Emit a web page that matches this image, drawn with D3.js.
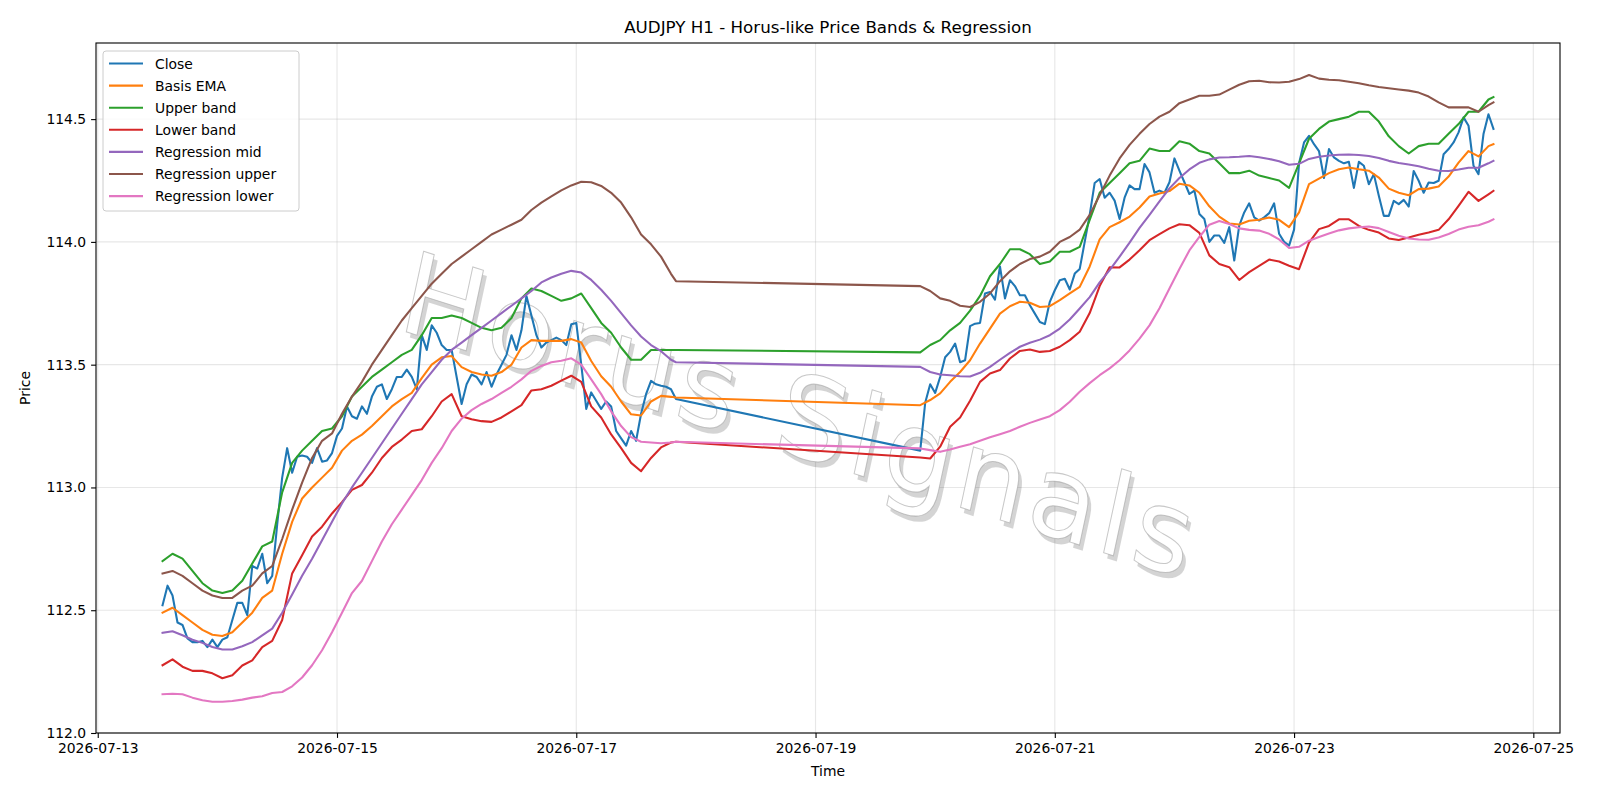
<!DOCTYPE html>
<html>
<head>
<meta charset="utf-8">
<script src="https://cdn.jsdelivr.net/npm/d3@7"></script>
<style>
  body { margin: 0; background: #fff; }
  svg text { font-family: "DejaVu Sans", sans-serif; }
</style>
</head>
<body>
<div id="chart"></div>
<script>
// hourly bars, market closed over the weekend (07-17 20:00 -> 07-19 21:00)
const startA = "2026-07-13T13:00:00Z", lastHourA = 103;
const startB = "2026-07-19T21:00:00Z", lastHourB = 115;

const xTickLabels = ["2026-07-13", "2026-07-15", "2026-07-17", "2026-07-19", "2026-07-21", "2026-07-23", "2026-07-25"];
const yTicks = [112.0, 112.5, 113.0, 113.5, 114.0, 114.5];

const seriesNames = ["Close", "Basis EMA", "Upper band", "Lower band", "Regression mid", "Regression upper", "Regression lower"];
const seriesColors = ["#1f77b4", "#ff7f0e", "#2ca02c", "#d62728", "#9467bd", "#8c564b", "#e377c2"];

// Close, every hour
const closeA = [
  112.52, 112.60, 112.56, 112.45, 112.44, 112.385, 112.37, 112.37, 112.375, 112.35,
  112.38, 112.35, 112.38, 112.39, 112.46, 112.53, 112.53, 112.48, 112.68, 112.67,
  112.73, 112.61, 112.64, 112.85, 113.04, 113.16, 113.06, 113.125, 113.13, 113.125,
  113.10, 113.16, 113.105, 113.11, 113.14, 113.21, 113.24, 113.33, 113.29, 113.28,
  113.33, 113.30, 113.37, 113.41, 113.42, 113.36, 113.40, 113.45, 113.45, 113.48,
  113.45, 113.40, 113.62, 113.56, 113.66, 113.63, 113.58, 113.56, 113.56, 113.45,
  113.34, 113.42, 113.46, 113.45, 113.42, 113.47, 113.41, 113.46, 113.50, 113.54,
  113.62, 113.56, 113.64, 113.78, 113.70, 113.62, 113.57, 113.59, 113.60, 113.61,
  113.60, 113.58, 113.665, 113.67, 113.50, 113.32, 113.387, 113.353, 113.32, 113.35,
  113.33, 113.23, 113.20, 113.17, 113.23, 113.19, 113.30, 113.38, 113.434, 113.42,
  113.414, 113.41, 113.40, 113.36
];
const closeB = [
  113.15, 113.345, 113.42, 113.385, 113.45, 113.53, 113.552, 113.586, 113.51, 113.518,
  113.657, 113.667, 113.67, 113.79, 113.796, 113.765, 113.90, 113.77, 113.844, 113.82,
  113.783, 113.783, 113.742, 113.708, 113.674, 113.665, 113.756, 113.803, 113.844, 113.85,
  113.806, 113.871, 113.89, 114.0, 114.11, 114.24, 114.256, 114.18, 114.20, 114.168,
  114.093, 114.18, 114.23, 114.215, 114.215, 114.317, 114.283, 114.20, 114.209, 114.20,
  114.243, 114.34, 114.29, 114.243, 114.195, 114.209, 114.114, 114.093, 114.0, 114.026,
  114.026, 113.996, 114.06, 113.924, 114.066, 114.12, 114.157, 114.10, 114.087, 114.10,
  114.117, 114.157, 114.033, 114.0, 113.985, 114.05, 114.32, 114.405, 114.432, 114.398,
  114.37, 114.26, 114.378, 114.344, 114.33, 114.32, 114.326, 114.22, 114.326, 114.31,
  114.235, 114.276, 114.188, 114.106, 114.106, 114.167, 114.154, 114.171, 114.144, 114.289,
  114.249, 114.20, 114.242, 114.24, 114.249, 114.357, 114.378, 114.405, 114.446, 114.507,
  114.473, 114.31, 114.276, 114.439, 114.52, 114.46
];

// the smoother lines, read every 2 hours (plus the last bar of each block)
const emaA = [
  112.49, 112.51, 112.48, 112.45, 112.42, 112.40, 112.395, 112.41, 112.45, 112.49,
  112.55, 112.58, 112.73, 112.86, 112.955, 113.00, 113.04, 113.08, 113.15, 113.19,
  113.215, 113.25, 113.29, 113.33, 113.36, 113.385, 113.445, 113.50, 113.53, 113.535,
  113.49, 113.47, 113.46, 113.455, 113.47, 113.50, 113.57, 113.60, 113.597, 113.597,
  113.597, 113.604, 113.59, 113.515, 113.453, 113.41, 113.35, 113.298, 113.293, 113.35,
  113.373, 113.369, 113.366
];
const emaB = [
  113.335, 113.356, 113.383, 113.43, 113.47, 113.518, 113.586, 113.647, 113.708, 113.738,
  113.756, 113.752, 113.735, 113.738, 113.763, 113.79, 113.817, 113.90, 114.01, 114.06,
  114.08, 114.103, 114.14, 114.185, 114.197, 114.207, 114.237, 114.23, 114.20, 114.145,
  114.103, 114.075, 114.071, 114.086, 114.09, 114.099, 114.09, 114.06, 114.12, 114.235,
  114.258, 114.28, 114.296, 114.303, 114.296, 114.29, 114.262, 114.217, 114.20, 114.19,
  114.215, 114.217, 114.226, 114.266, 114.323, 114.37, 114.348, 114.39, 114.398
];
const upperA = [
  112.70, 112.73, 112.71, 112.66, 112.61, 112.58, 112.57, 112.58, 112.62, 112.69,
  112.76, 112.78, 112.98, 113.10, 113.15, 113.19, 113.23, 113.24, 113.29, 113.37,
  113.41, 113.45, 113.48, 113.51, 113.54, 113.56, 113.62, 113.69, 113.69, 113.70,
  113.69, 113.67, 113.65, 113.64, 113.65, 113.69, 113.77, 113.81, 113.80, 113.78,
  113.76, 113.77, 113.79, 113.73, 113.67, 113.63, 113.57, 113.52, 113.52, 113.56,
  113.56, 113.56, 113.56
];
const upperB = [
  113.55, 113.58, 113.60, 113.64, 113.67, 113.72, 113.78, 113.86, 113.91, 113.97,
  113.97, 113.95, 113.91, 113.92, 113.96, 113.96, 113.98, 114.09, 114.20, 114.24,
  114.28, 114.32, 114.33, 114.38, 114.37, 114.37, 114.41, 114.40, 114.37, 114.36,
  114.32, 114.28, 114.28, 114.29, 114.27, 114.26, 114.25, 114.22, 114.32, 114.42,
  114.46, 114.49, 114.50, 114.51, 114.53, 114.53, 114.49, 114.43, 114.39, 114.36,
  114.39, 114.40, 114.40, 114.44, 114.48, 114.53, 114.53, 114.58, 114.59
];
const lowerA = [
  112.276, 112.30, 112.27, 112.253, 112.253, 112.243, 112.223, 112.235, 112.275, 112.296,
  112.35, 112.375, 112.46, 112.65, 112.724, 112.80, 112.84, 112.894, 112.94, 112.99,
  113.01, 113.06, 113.12, 113.165, 113.195, 113.23, 113.237, 113.29, 113.35, 113.38,
  113.29, 113.278, 113.27, 113.267, 113.285, 113.31, 113.335, 113.395, 113.40, 113.414,
  113.435, 113.455, 113.43, 113.33, 113.285, 113.216, 113.16, 113.10, 113.066, 113.12,
  113.163, 113.183, 113.186
];
const lowerB = [
  113.122, 113.118, 113.166, 113.247, 113.285, 113.353, 113.43, 113.464, 113.478, 113.525,
  113.556, 113.562, 113.552, 113.556, 113.573, 113.60, 113.634, 113.71, 113.82, 113.897,
  113.896, 113.928, 113.966, 114.007, 114.032, 114.055, 114.072, 114.068, 114.037, 113.945,
  113.91, 113.897, 113.845, 113.877, 113.902, 113.928, 113.92, 113.903, 113.889, 113.997,
  114.052, 114.065, 114.092, 114.092, 114.065, 114.049, 114.038, 114.014, 114.008, 114.018,
  114.029, 114.038, 114.049, 114.092, 114.147, 114.204, 114.167, 114.194, 114.208
];
const regMidA = [
  112.408, 112.414, 112.398, 112.38, 112.367, 112.35, 112.34, 112.34, 112.353, 112.37,
  112.398, 112.425, 112.49, 112.564, 112.64, 112.71, 112.785, 112.86, 112.935, 113.0,
  113.06, 113.12, 113.18, 113.24, 113.30, 113.36, 113.42, 113.47, 113.52, 113.56,
  113.59, 113.62, 113.65, 113.68, 113.71, 113.74, 113.77, 113.80, 113.835, 113.855,
  113.87, 113.882, 113.875, 113.845, 113.805, 113.76, 113.71, 113.66, 113.615, 113.58,
  113.555, 113.52, 113.51
];
const regMidB = [
  113.491, 113.47, 113.46, 113.457, 113.453, 113.452, 113.467, 113.491, 113.52, 113.548,
  113.573, 113.589, 113.602, 113.62, 113.647, 113.684, 113.729, 113.775, 113.835, 113.885,
  113.94, 113.997, 114.057, 114.11, 114.165, 114.218, 114.26, 114.295, 114.322, 114.336,
  114.344, 114.345, 114.347, 114.35, 114.345, 114.338, 114.328, 114.314, 114.318, 114.338,
  114.347, 114.352, 114.355, 114.356, 114.354, 114.35, 114.342, 114.33, 114.321, 114.315,
  114.308, 114.298, 114.29, 114.289, 114.295, 114.302, 114.302, 114.32, 114.33
];
const regUpperA = [
  112.65, 112.66, 112.64, 112.61, 112.58, 112.56, 112.55, 112.55, 112.58, 112.60,
  112.65, 112.68, 112.79, 112.91, 113.02, 113.12, 113.19, 113.22, 113.30, 113.37,
  113.43, 113.50, 113.56, 113.62, 113.68, 113.73, 113.78, 113.83, 113.87, 113.91,
  113.94, 113.97, 114.00, 114.03, 114.05, 114.07, 114.09, 114.13, 114.16, 114.185,
  114.21, 114.23, 114.245, 114.243, 114.228, 114.20, 114.16, 114.10, 114.03, 113.99,
  113.94, 113.87, 113.84
];
const regUpperB = [
  113.82, 113.80, 113.77, 113.76, 113.74, 113.735, 113.756, 113.79, 113.84, 113.88,
  113.91, 113.93, 113.94, 113.96, 114.00, 114.02, 114.05, 114.11, 114.19, 114.27,
  114.34, 114.395, 114.44, 114.48, 114.51, 114.53, 114.565, 114.58, 114.595, 114.595,
  114.60, 114.62, 114.64, 114.654, 114.656, 114.65, 114.649, 114.652, 114.663, 114.68,
  114.665, 114.66, 114.658, 114.652, 114.646, 114.638, 114.631, 114.626, 114.621, 114.616,
  114.608, 114.592, 114.568, 114.548, 114.548, 114.548, 114.53, 114.557, 114.568
];
const regLowerA = [
  112.158, 112.16, 112.158, 112.144, 112.133, 112.127, 112.127, 112.13, 112.136, 112.144,
  112.15, 112.163, 112.167, 112.19, 112.226, 112.276, 112.337, 112.41, 112.49, 112.57,
  112.62, 112.70, 112.78, 112.85, 112.91, 112.97, 113.03, 113.10, 113.16, 113.23,
  113.28, 113.315, 113.34, 113.36, 113.385, 113.41, 113.44, 113.475, 113.495, 113.51,
  113.516, 113.526, 113.50, 113.44, 113.38, 113.31, 113.25, 113.205, 113.186, 113.183,
  113.18, 113.183, 113.186
];
const regLowerB = [
  113.159, 113.152, 113.145, 113.155, 113.166, 113.176, 113.19, 113.204, 113.217, 113.23,
  113.247, 113.263, 113.277, 113.29, 113.315, 113.349, 113.39, 113.425, 113.457, 113.485,
  113.518, 113.558, 113.606, 113.66, 113.73, 113.81, 113.89, 113.965, 114.02, 114.07,
  114.085, 114.073, 114.055, 114.049, 114.046, 114.033, 114.01, 113.975, 113.98, 114.005,
  114.02, 114.034, 114.047, 114.055, 114.06, 114.063, 114.056, 114.04, 114.025, 114.014,
  114.01, 114.009, 114.018, 114.032, 114.05, 114.062, 114.068, 114.082, 114.092
];

const HOUR = 3600 * 1000;

function hourlyTimes(start, lastHour) {
  const t0 = new Date(start).getTime();
  return d3.range(lastHour + 1).map((h) => new Date(t0 + h * HOUR));
}

function twoHourTimes(start, lastHour) {
  const t0 = new Date(start).getTime();
  const hs = d3.range(0, lastHour, 2);
  hs.push(lastHour);
  return hs.map((h) => new Date(t0 + h * HOUR));
}

function toPoints(times, values) {
  return values.map((v, i) => ({ t: times[i], v: v }));
}

const hourA = hourlyTimes(startA, lastHourA), hourB = hourlyTimes(startB, lastHourB);
const stepA = twoHourTimes(startA, lastHourA), stepB = twoHourTimes(startB, lastHourB);

const series = [
  toPoints(hourA, closeA).concat(toPoints(hourB, closeB)),
  toPoints(stepA, emaA).concat(toPoints(stepB, emaB)),
  toPoints(stepA, upperA).concat(toPoints(stepB, upperB)),
  toPoints(stepA, lowerA).concat(toPoints(stepB, lowerB)),
  toPoints(stepA, regMidA).concat(toPoints(stepB, regMidB)),
  toPoints(stepA, regUpperA).concat(toPoints(stepB, regUpperB)),
  toPoints(stepA, regLowerA).concat(toPoints(stepB, regLowerB)),
];

const W = 1600, H = 800;
const margin = { top: 43, right: 40, bottom: 67, left: 96 };
const width = W - margin.left - margin.right;
const height = H - margin.top - margin.bottom;

const svg = d3.select("#chart")
  .append("svg")
  .attr("width", W)
  .attr("height", H);

svg.append("rect").attr("width", W).attr("height", H).attr("fill", "#fff");

const g = svg.append("g").attr("transform", `translate(${margin.left},${margin.top})`);

// x range padded by 5% like matplotlib autoscaling
const tExtent = d3.extent(series[0], (d) => d.t);
const pad = (tExtent[1] - tExtent[0]) * 0.05;
const x = d3.scaleUtc()
  .domain([new Date(tExtent[0].getTime() - pad), new Date(tExtent[1].getTime() + pad)])
  .range([0, width]);

const y = d3.scaleLinear().domain([112.0, 114.81]).range([height, 0]);

const xTicks = xTickLabels.map((s) => new Date(s + "T00:00:00Z"));

// grid
g.append("g")
  .selectAll("line")
  .data(xTicks)
  .enter()
  .append("line")
  .attr("x1", (d) => x(d)).attr("x2", (d) => x(d))
  .attr("y1", 0).attr("y2", height)
  .attr("stroke", "#b0b0b0").attr("stroke-opacity", 0.3).attr("stroke-width", 1.1);

g.append("g")
  .selectAll("line")
  .data(yTicks)
  .enter()
  .append("line")
  .attr("x1", 0).attr("x2", width)
  .attr("y1", (d) => y(d)).attr("y2", (d) => y(d))
  .attr("stroke", "#b0b0b0").attr("stroke-opacity", 0.3).attr("stroke-width", 1.1);

// watermark, skewed and shadowed
const wm = g.append("g")
  .attr("transform", `translate(${792 - margin.left},${454 - margin.top}) matrix(0.953,0.302,-0.21,0.978,0,0)`);

wm.append("text")
  .attr("x", 4.5).attr("y", 4.5)
  .attr("text-anchor", "middle")
  .style("font-size", "113px")
  .style("letter-spacing", "4.5px")
  .attr("fill", "#000").attr("fill-opacity", 0.17)
  .text("Horus Signals");

wm.append("text")
  .attr("text-anchor", "middle")
  .style("font-size", "113px")
  .style("letter-spacing", "4.5px")
  .attr("fill", "#fff")
  .attr("stroke", "#9a9a9a").attr("stroke-opacity", 0.55).attr("stroke-width", 1)
  .text("Horus Signals");

// lines
const line = d3.line()
  .x((d) => x(d.t))
  .y((d) => y(d.v));

series.forEach((data, i) => {
  g.append("path")
    .datum(data)
    .attr("fill", "none")
    .attr("stroke", seriesColors[i])
    .attr("stroke-width", 2.08)
    .attr("stroke-linejoin", "round")
    .attr("stroke-linecap", "square")
    .attr("d", line);
});

// axes
const xAxis = d3.axisBottom(x)
  .tickValues(xTicks)
  .tickFormat(d3.utcFormat("%Y-%m-%d"))
  .tickSize(4.9).tickPadding(4.9);

const yAxis = d3.axisLeft(y)
  .tickValues(yTicks)
  .tickFormat(d3.format(".1f"))
  .tickSize(4.9).tickPadding(4.9);

const gx = g.append("g").attr("transform", `translate(0,${height})`).call(xAxis);
const gy = g.append("g").call(yAxis);

[gx, gy].forEach((a) => {
  a.select(".domain").remove();
  a.selectAll(".tick line").attr("stroke", "#000").attr("stroke-width", 1.1);
  a.selectAll(".tick text")
    .attr("fill", "#000")
    .style("font-family", "DejaVu Sans, sans-serif")
    .style("font-size", "13.9px");
});

g.append("rect")
  .attr("width", width).attr("height", height)
  .attr("fill", "none").attr("stroke", "#000").attr("stroke-width", 1.1);

// labels
svg.append("text")
  .attr("x", margin.left + width / 2).attr("y", 32.5)
  .attr("text-anchor", "middle")
  .style("font-size", "16.7px")
  .text("AUDJPY H1 - Horus-like Price Bands & Regression");

svg.append("text")
  .attr("x", margin.left + width / 2).attr("y", 776)
  .attr("text-anchor", "middle")
  .style("font-size", "13.9px")
  .text("Time");

svg.append("text")
  .attr("transform", `translate(30,${margin.top + height / 2}) rotate(-90)`)
  .attr("text-anchor", "middle")
  .style("font-size", "13.9px")
  .text("Price");

// legend
const legend = svg.append("g").attr("transform", "translate(103,51)");

legend.append("rect")
  .attr("width", 196).attr("height", 160)
  .attr("rx", 3)
  .attr("fill", "#fff").attr("fill-opacity", 0.8)
  .attr("stroke", "#cccccc").attr("stroke-width", 1);

seriesNames.forEach((name, i) => {
  const yy = 12.5 + i * 22.1;
  legend.append("line")
    .attr("x1", 6).attr("x2", 40)
    .attr("y1", yy).attr("y2", yy)
    .attr("stroke", seriesColors[i]).attr("stroke-width", 2.08);
  legend.append("text")
    .attr("x", 52).attr("y", yy + 5)
    .style("font-size", "13.9px")
    .text(name);
});
</script>
</body>
</html>
